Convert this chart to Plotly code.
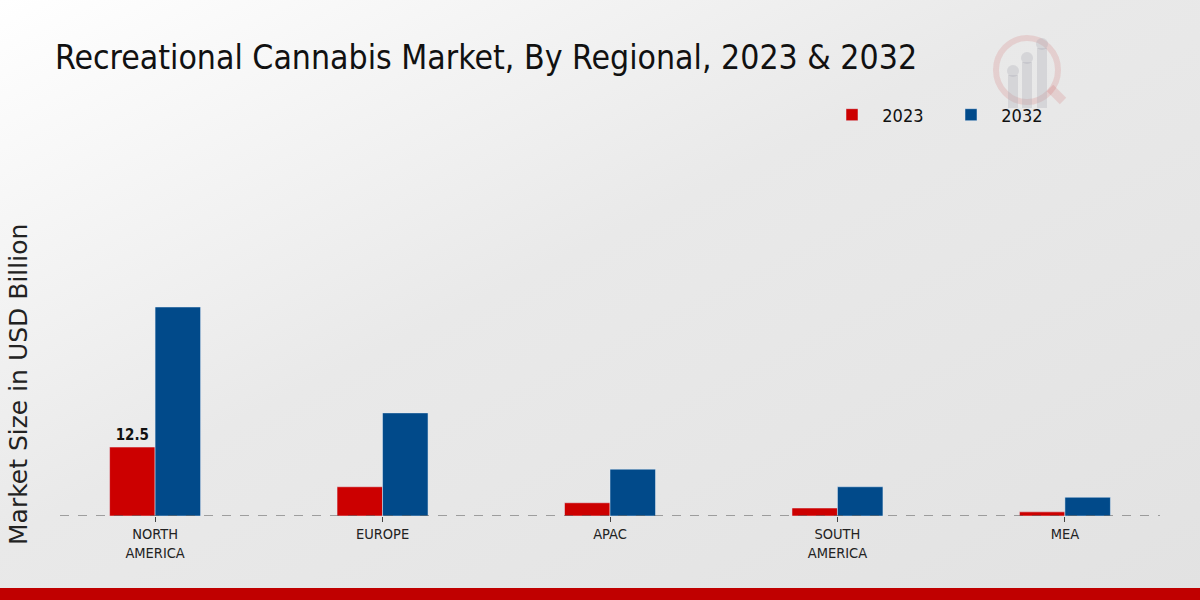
import base64
import plotly.graph_objects as go

regions = ["NORTH<br>AMERICA", "EUROPE", "APAC", "SOUTH<br>AMERICA", "MEA"]
values_2023 = [12.5, 5.3, 2.4, 1.45, 0.75]
values_2032 = [37.9, 18.7, 8.5, 5.3, 3.4]
labels_2023 = ["12.5", "", "", "", ""]

COND = "DejaVu Sans Condensed, DejaVu Sans, sans-serif"
FONT = "DejaVu Sans, sans-serif"
NB = "\u00a0\u00a0"

svg = """<svg xmlns='http://www.w3.org/2000/svg' width='1200' height='600'>
<defs><linearGradient id='g' x1='0' y1='0' x2='1' y2='1'>
<stop offset='0' stop-color='#ffffff'/><stop offset='0.45' stop-color='#e9e9e9'/>
<stop offset='1' stop-color='#e2e2e2'/></linearGradient></defs>
<rect width='1200' height='600' fill='url(#g)'/></svg>"""
bg = "data:image/svg+xml;base64," + base64.b64encode(svg.encode()).decode()

def px_x(p):
    return (p - 60) / 1100

def px_y(p):
    return (516 - p) / 386

fig = go.Figure()
fig.add_trace(go.Bar(
    name=NB + "2023", x=regions, y=values_2023, marker_color="#cc0000",
    text=labels_2023, texttemplate="<b>%{text}</b>", textposition="outside",
    textfont=dict(size=15, color="#111111", family=COND), cliponaxis=False,
))
fig.add_trace(go.Bar(
    name=NB + "2032", x=regions, y=values_2032, marker_color="#014a8a",
))

fig.update_layout(
    width=1200, height=600,
    paper_bgcolor="#e8e8e8", plot_bgcolor="rgba(0,0,0,0)",
    margin=dict(l=60, r=40, t=130, b=84),
    font=dict(family=COND, color="#222222"),
    title=dict(text="Recreational Cannabis Market, By Regional, 2023 & 2032",
               x=55 / 1200, xanchor="left", y=1 - 57 / 600, yanchor="middle",
               font=dict(size=33.5, color="#111111", family=COND)),
    barmode="group", bargap=0.6, bargroupgap=0,
    legend=dict(orientation="h", x=px_x(832), y=px_y(115), xanchor="left", yanchor="middle",
                font=dict(size=18, color="#111111", family=COND), bgcolor="rgba(0,0,0,0)",
                entrywidth=74, entrywidthmode="pixels", traceorder="normal"),
    showlegend=True,
    images=[dict(source=bg, xref="paper", yref="paper", x=px_x(0), y=px_y(0),
                 sizex=1200 / 1100, sizey=600 / 386, xanchor="left", yanchor="top",
                 sizing="stretch", layer="below")],
)
fig.update_xaxes(range=[-0.418, 4.418], showgrid=False, zeroline=False,
                 showline=False, ticks="outside", ticklen=5, tickcolor="#444444",
                 tickfont=dict(size=14.5, color="#222222", family=COND))
fig.update_yaxes(range=[0, 70], showgrid=False, zeroline=False, showticklabels=False)

fig.add_annotation(text="Market Size in USD Billion", textangle=-90,
                   xref="paper", yref="paper", x=px_x(18), y=px_y(385),
                   xanchor="center", yanchor="middle", showarrow=False,
                   font=dict(size=25, color="#222222", family=FONT))

# dashed baseline
fig.add_shape(type="line", xref="paper", yref="y", x0=0, x1=1, y0=0, y1=0,
              line=dict(color="#555555", width=1.2, dash="dash"))
# bottom red band
fig.add_shape(type="rect", xref="paper", yref="paper", x0=px_x(-5), x1=px_x(1205),
              y0=px_y(605), y1=px_y(588), fillcolor="#c00000", line_width=0, layer="above")
# faint logo
fig.add_shape(type="circle", xref="paper", yref="paper", x0=px_x(996), x1=px_x(1058),
              y0=px_y(102), y1=px_y(38), line=dict(color="rgba(200,60,60,0.15)", width=6))
fig.add_shape(type="line", xref="paper", yref="paper", x0=px_x(1050), x1=px_x(1063),
              y0=px_y(88), y1=px_y(101), line=dict(color="rgba(200,60,60,0.15)", width=9))
for xc, top in [(1013, 75), (1027, 62), (1042, 48)]:
    fig.add_shape(type="rect", xref="paper", yref="paper", x0=px_x(xc - 5), x1=px_x(xc + 5),
                  y0=px_y(108), y1=px_y(top), fillcolor="rgba(170,170,180,0.3)", line_width=0)
    fig.add_shape(type="circle", xref="paper", yref="paper", x0=px_x(xc - 6), x1=px_x(xc + 6),
                  y0=px_y(top + 2), y1=px_y(top - 10), fillcolor="rgba(170,170,180,0.3)",
                  line_width=0)

post = """
document.body.style.margin='0';
var st=document.createElement('style');
st.textContent='.main-svg text:not(.annotation-text), .main-svg tspan {font-stretch: condensed !important;} .annotation-text {font-stretch: normal !important;}';
document.head.appendChild(st);
"""
fig.write_html("out.html", post_script=post, config={"displayModeBar": False})
